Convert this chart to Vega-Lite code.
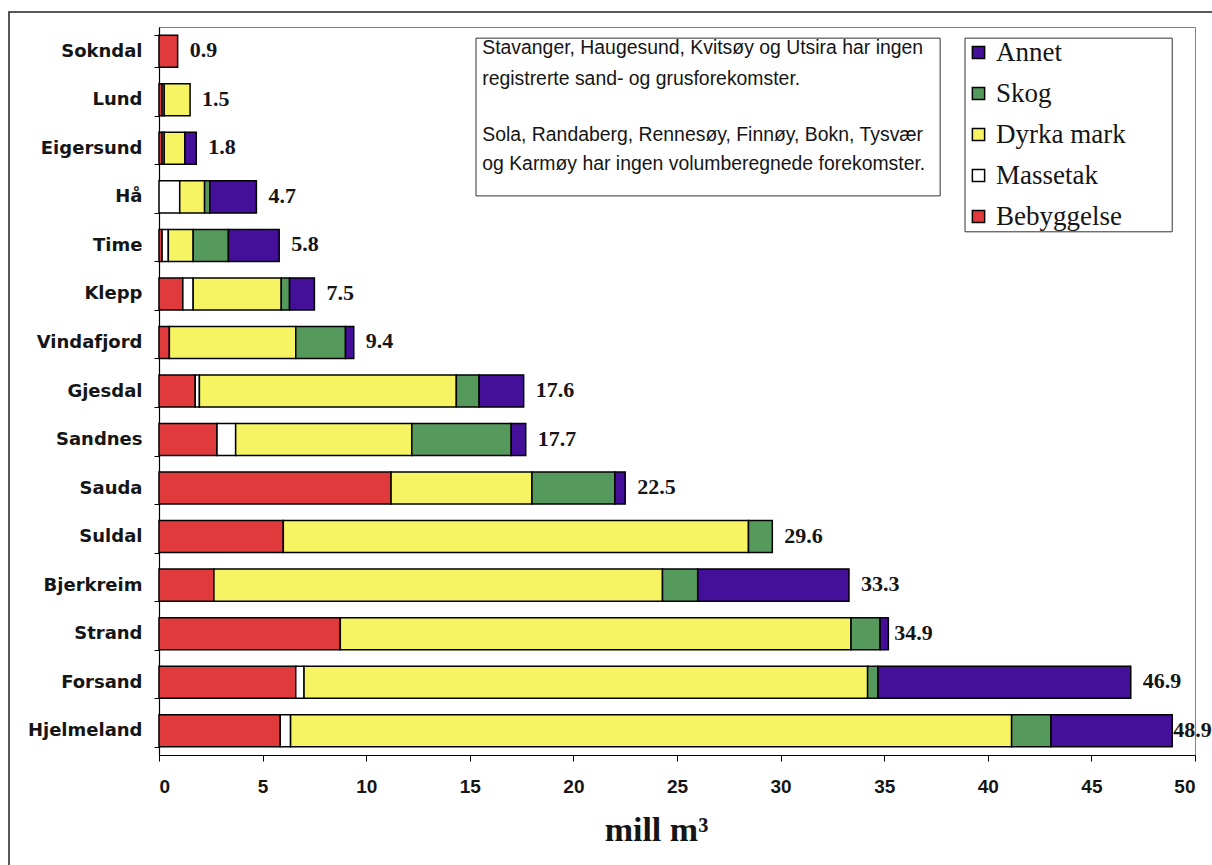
{
  "$schema": "https://vega.github.io/schema/vega-lite/v6.json",
  "autosize": {"type": "none"},
  "width": 1036,
  "height": 728,
  "padding": {"left": 159, "top": 27, "right": 17, "bottom": 110},
  "background": "white",
  "config": {"view": {"stroke": "#808080", "strokeWidth": 1}},
  "datasets": {
    "kommuner": [
      {"kommune": "Sokndal", "Bebyggelse": 0.9, "Massetak": 0, "Dyrka mark": 0, "Skog": 0, "Annet": 0, "total": 0.9},
      {"kommune": "Lund", "Bebyggelse": 0.15, "Massetak": 0.1, "Dyrka mark": 1.25, "Skog": 0, "Annet": 0, "total": 1.5},
      {"kommune": "Eigersund", "Bebyggelse": 0.15, "Massetak": 0.1, "Dyrka mark": 1.0, "Skog": 0, "Annet": 0.55, "total": 1.8},
      {"kommune": "Hå", "Bebyggelse": 0, "Massetak": 1.0, "Dyrka mark": 1.2, "Skog": 0.25, "Annet": 2.25, "total": 4.7},
      {"kommune": "Time", "Bebyggelse": 0.15, "Massetak": 0.3, "Dyrka mark": 1.2, "Skog": 1.7, "Annet": 2.45, "total": 5.8},
      {"kommune": "Klepp", "Bebyggelse": 1.15, "Massetak": 0.5, "Dyrka mark": 4.25, "Skog": 0.4, "Annet": 1.2, "total": 7.5},
      {"kommune": "Vindafjord", "Bebyggelse": 0.5, "Massetak": 0, "Dyrka mark": 6.1, "Skog": 2.4, "Annet": 0.4, "total": 9.4},
      {"kommune": "Gjesdal", "Bebyggelse": 1.75, "Massetak": 0.2, "Dyrka mark": 12.4, "Skog": 1.1, "Annet": 2.15, "total": 17.6},
      {"kommune": "Sandnes", "Bebyggelse": 2.8, "Massetak": 0.9, "Dyrka mark": 8.5, "Skog": 4.8, "Annet": 0.7, "total": 17.7},
      {"kommune": "Sauda", "Bebyggelse": 11.2, "Massetak": 0, "Dyrka mark": 6.8, "Skog": 4.0, "Annet": 0.5, "total": 22.5},
      {"kommune": "Suldal", "Bebyggelse": 6.0, "Massetak": 0, "Dyrka mark": 22.45, "Skog": 1.15, "Annet": 0, "total": 29.6},
      {"kommune": "Bjerkreim", "Bebyggelse": 2.65, "Massetak": 0, "Dyrka mark": 21.65, "Skog": 1.7, "Annet": 7.3, "total": 33.3},
      {"kommune": "Strand", "Bebyggelse": 8.75, "Massetak": 0, "Dyrka mark": 24.65, "Skog": 1.4, "Annet": 0.4, "total": 34.9},
      {"kommune": "Forsand", "Bebyggelse": 6.6, "Massetak": 0.4, "Dyrka mark": 27.2, "Skog": 0.5, "Annet": 12.2, "total": 46.9},
      {"kommune": "Hjelmeland", "Bebyggelse": 5.85, "Massetak": 0.5, "Dyrka mark": 34.8, "Skog": 1.9, "Annet": 5.85, "total": 48.9}
    ]
  },
  "layer": [
    {
      "data": {"name": "kommuner"},
      "layer": [
        {
          "transform": [
            {"fold": ["Bebyggelse", "Massetak", "Dyrka mark", "Skog", "Annet"], "as": ["type", "mill"]},
            {"filter": "datum.mill > 0"},
            {"calculate": "indexof(['Bebyggelse','Massetak','Dyrka mark','Skog','Annet'], datum.type)", "as": "rekkefolge"}
          ],
          "mark": {"type": "bar", "stroke": "black", "strokeWidth": 1.5},
          "encoding": {
            "y": {
              "field": "kommune", "type": "nominal", "sort": null,
              "scale": {"paddingInner": 0.34, "paddingOuter": 0.17},
              "axis": {
                "title": null, "labelFont": "DejaVu Sans", "labelFontWeight": "bold", "labelFontSize": 18,
                "labelColor": "#151515", "labelPadding": 12, "tickBand": "extent", "tickSize": 5,
                "tickColor": "black", "domainColor": "black", "domainWidth": 1.2
              }
            },
            "x": {
              "field": "mill", "type": "quantitative", "stack": "zero",
              "scale": {"domain": [0, 50], "nice": false},
              "axis": {
                "title": "mill m³", "values": [0, 5, 10, 15, 20, 25, 30, 35, 40, 45, 50],
                "grid": false, "tickSize": 6, "tickColor": "black", "domainColor": "black", "domainWidth": 1.2,
                "labelFont": "Liberation Sans", "labelFontWeight": "bold", "labelFontSize": 19, "labelColor": "#151515",
                "labelPadding": 16, "titleFont": "Liberation Serif", "titleFontWeight": "bold", "titleFontSize": 34,
                "titleColor": "#151515", "titlePadding": 17, "titleX": 497
              }
            },
            "color": {
              "field": "type", "type": "nominal",
              "scale": {
                "domain": ["Annet", "Skog", "Dyrka mark", "Massetak", "Bebyggelse"],
                "range": ["#440f99", "#56995c", "#f6f462", "#ffffff", "#e03a3c"]
              },
              "legend": {
                "title": null, "orient": "none", "legendX": 806, "legendY": 12,
                "symbolType": "square", "symbolSize": 150, "symbolStrokeColor": "black", "symbolStrokeWidth": 1.5,
                "labelFont": "Liberation Serif", "labelFontSize": 27, "labelColor": "#151515",
                "rowPadding": 13, "labelOffset": 4, "padding": 0
              }
            },
            "order": {"field": "rekkefolge", "type": "quantitative"}
          }
        },
        {
          "transform": [{"filter": "datum.total < 48"}],
          "mark": {"type": "text", "align": "left", "baseline": "middle", "dx": 12, "dy": -1,
                   "font": "Liberation Serif", "fontWeight": "bold", "fontSize": 22, "color": "#151515"},
          "encoding": {
            "y": {"field": "kommune", "type": "nominal", "sort": null},
            "x": {"field": "total", "type": "quantitative"},
            "text": {"field": "total", "type": "quantitative", "format": ".1f"}
          }
        },
        {
          "transform": [{"filter": "datum.total >= 48"}],
          "mark": {"type": "text", "align": "left", "baseline": "middle", "dx": 1, "dy": -1,
                   "font": "Liberation Serif", "fontWeight": "bold", "fontSize": 22, "color": "#151515"},
          "encoding": {
            "y": {"field": "kommune", "type": "nominal", "sort": null},
            "x": {"field": "total", "type": "quantitative"},
            "text": {"field": "total", "type": "quantitative", "format": ".1f"}
          }
        }
      ]
    },
    {
      "data": {"values": [{}]},
      "mark": {"type": "rect", "filled": false, "stroke": "#222222", "strokeWidth": 1.5},
      "encoding": {
        "x": {"datum": -7.24, "type": "quantitative", "scale": {"domain": [0, 50], "nice": false, "zero": false}, "axis": null},
        "x2": {"datum": 51.5},
        "y": {"datum": 0.19, "type": "quantitative", "scale": {"domain": [0.5, 15.5], "reverse": true, "nice": false, "zero": false}, "axis": null},
        "y2": {"datum": 18}
      }
    },
    {
      "data": {"values": [{}]},
      "mark": {"type": "rect", "filled": false, "stroke": "#333333", "strokeWidth": 1},
      "encoding": {
        "x": {"datum": 15.3, "type": "quantitative", "scale": {"domain": [0, 50], "nice": false}, "axis": null},
        "x2": {"datum": 37.7},
        "y": {"datum": 0.73, "type": "quantitative", "scale": {"domain": [0.5, 15.5], "reverse": true, "nice": false, "zero": false}, "axis": null},
        "y2": {"datum": 3.98}
      }
    },
    {
      "data": {"values": [{}]},
      "mark": {"type": "rect", "filled": false, "stroke": "#333333", "strokeWidth": 1},
      "encoding": {
        "x": {"datum": 38.9, "type": "quantitative", "scale": {"domain": [0, 50], "nice": false}, "axis": null},
        "x2": {"datum": 48.9},
        "y": {"datum": 0.73, "type": "quantitative", "scale": {"domain": [0.5, 15.5], "reverse": true, "nice": false, "zero": false}, "axis": null},
        "y2": {"datum": 4.72}
      }
    },
    {
      "data": {"values": [{}]},
      "mark": {"type": "text", "align": "left", "baseline": "top", "font": "Liberation Sans", "fontSize": 19.4,
               "lineHeight": 31, "color": "#151515"},
      "encoding": {
        "x": {"datum": 15.6, "type": "quantitative", "scale": {"domain": [0, 50], "nice": false}, "axis": null},
        "y": {"datum": 0.75, "type": "quantitative", "scale": {"domain": [0.5, 15.5], "reverse": true, "nice": false, "zero": false}, "axis": null},
        "text": {"value": ["Stavanger, Haugesund, Kvitsøy og Utsira har ingen", "registrerte sand- og grusforekomster."]}
      }
    },
    {
      "data": {"values": [{}]},
      "mark": {"type": "text", "align": "left", "baseline": "top", "font": "Liberation Sans", "fontSize": 19.4,
               "lineHeight": 29, "color": "#151515"},
      "encoding": {
        "x": {"datum": 15.6, "type": "quantitative", "scale": {"domain": [0, 50], "nice": false}, "axis": null},
        "y": {"datum": 2.54, "type": "quantitative", "scale": {"domain": [0.5, 15.5], "reverse": true, "nice": false, "zero": false}, "axis": null},
        "text": {"value": ["Sola, Randaberg, Rennesøy, Finnøy, Bokn, Tysvær", "og Karmøy har ingen volumberegnede forekomster."]}
      }
    }
  ],
  "resolve": {"scale": {"x": "independent", "y": "independent"}}
}
